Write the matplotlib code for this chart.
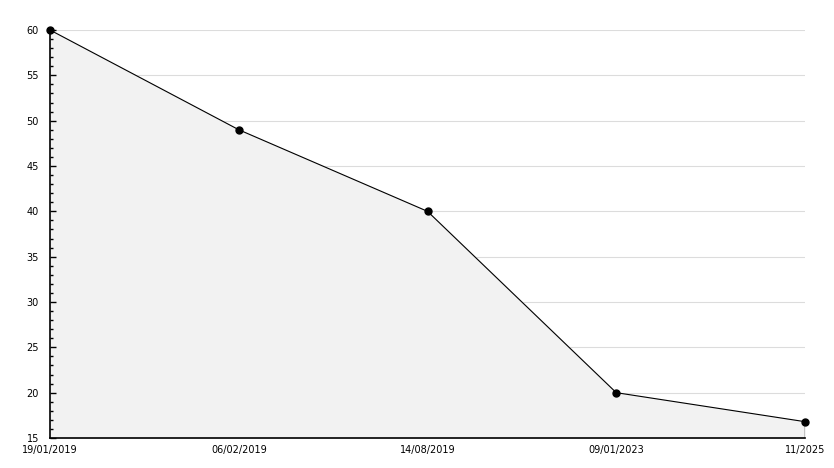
import numpy as np
from matplotlib import pyplot as plt
from matplotlib.ticker import MultipleLocator

# values
dates = ["19/01/2019", "06/02/2019", "14/08/2019", "09/01/2023", "11/2025"]
values = [60, 49, 40, 20, 16.8]

x = np.arange(len(dates))

fig = plt.figure(figsize=(8.34, 4.68), dpi=100)
ax = fig.add_axes([50/834, 30/468, 755/834, 408/468])

ax.set_xlim(x[0], x[-1])
ax.set_ylim(15, 60)
ax.set_xticks(x)
ax.set_xticklabels(dates)
ax.yaxis.set_major_locator(MultipleLocator(5))
ax.yaxis.set_minor_locator(MultipleLocator(1))
ax.set_axisbelow(True)

# grid under the fill, ticks over it
for yv in ax.get_yticks():
	if 15 < yv <= 60:
		ax.axhline(yv, color="#dcdcdc", lw=0.8, zorder=0.1)

ax.fill_between(x, values, 15, color="#f2f2f2", zorder=0.2)
ax.plot([x[-1], x[-1]], [15, values[-1]], color="black", lw=1, zorder=3)
ax.plot(x, values, color="black", lw=0.8, marker="o", markersize=5, zorder=4, clip_on=False)

for s in ["top", "right"]:
	ax.spines[s].set_visible(False)
for s in ["left", "bottom"]:
	ax.spines[s].set_linewidth(1.2)
	ax.spines[s].set_zorder(5)

ax.tick_params(axis="x", length=0, pad=5, labelsize=7)
ax.tick_params(axis="y", which="major", direction="in", length=4, width=1, pad=8, labelsize=7)
ax.tick_params(axis="y", which="minor", direction="in", length=2.5, width=1)

plt.savefig("out.png", dpi=100)
